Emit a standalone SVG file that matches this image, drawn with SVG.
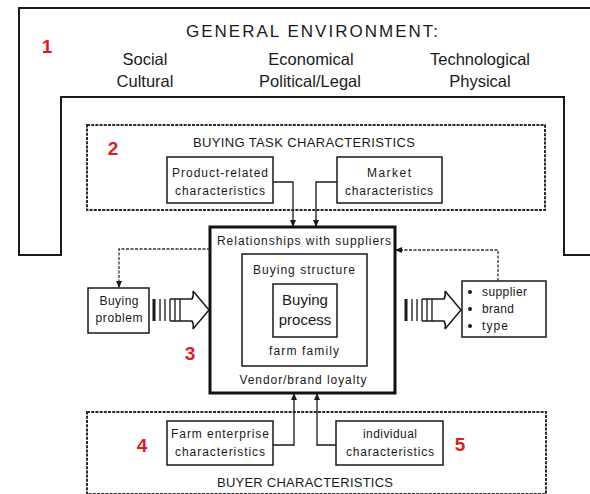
<svg xmlns="http://www.w3.org/2000/svg" width="590" height="494" viewBox="0 0 590 494">
<style>
text{font-family:"Liberation Sans",Arial,sans-serif;fill:#1a1a1a}
.env{font-size:16.5px}
.hd{font-size:13px}
.lb{font-size:12px}
.num{font-family:"Liberation Sans",Arial,sans-serif;font-size:19px;font-weight:bold;fill:#e01b1b}
.frame{fill:none;stroke:#1a1a1a;stroke-width:2}
.sect{fill:none;stroke:#2a2a2a;stroke-width:2;stroke-dasharray:3 1.2}
.box{fill:#fff;stroke:#1a1a1a;stroke-width:1.5}
.main{fill:#fff;stroke:#111;stroke-width:3}
.con{fill:none;stroke:#1a1a1a;stroke-width:1.3}
.dcon{fill:none;stroke:#333;stroke-width:1.3;stroke-dasharray:3 1.5}
</style>
<defs>
<marker id="ah" viewBox="0 0 8 8" refX="7" refY="4" markerWidth="7" markerHeight="7" markerUnits="userSpaceOnUse" orient="auto">
<path d="M0,0.5 L8,4 L0,7.5 Z" fill="#1a1a1a"/>
</marker>
<g id="striped">
<rect x="-1.5" y="-11" width="3" height="22" fill="#1a1a1a"/>
<path d="M6,-11 V11 M11,-11 V11 M16,-11 V11 M21,-11 V11 M26,-11 V11" stroke="#1a1a1a" stroke-width="1.3" fill="none"/>
<path d="M16,-11 H38 Q40,-14 39,-19 L55,0 L39,19 Q40,14 38,11 H16" stroke="#1a1a1a" stroke-width="1.5" fill="none" stroke-linejoin="miter"/>
</g>
</defs>

<g id="general-environment">
<path class="frame" d="M592,8 H19 V255 H61 V97 H564 V255 H592"/>
<text x="312" y="37" font-size="17" text-anchor="middle" textLength="252" lengthAdjust="spacing">GENERAL ENVIRONMENT:</text>
<text class="env" x="145" y="65" text-anchor="middle">Social</text>
<text class="env" x="145" y="87" text-anchor="middle">Cultural</text>
<text class="env" x="311" y="65" text-anchor="middle">Economical</text>
<text class="env" x="310" y="87" text-anchor="middle">Political/Legal</text>
<text class="env" x="480" y="65" text-anchor="middle">Technological</text>
<text class="env" x="480" y="87" text-anchor="middle">Physical</text>
<text class="num" x="47" y="53" text-anchor="middle">1</text>
</g>

<g id="buying-task">
<rect class="sect" x="87" y="125" width="458" height="85"/>
<text class="hd" x="304" y="147" text-anchor="middle" textLength="222" lengthAdjust="spacing">BUYING TASK CHARACTERISTICS</text>
<text class="num" x="113" y="155" text-anchor="middle">2</text>
</g>

<g id="product-related">
<rect class="box" x="167" y="157" width="106" height="46"/>
<text class="lb" x="220" y="177" text-anchor="middle" textLength="96" lengthAdjust="spacing">Product-related</text>
<text class="lb" x="220" y="195" text-anchor="middle" textLength="90" lengthAdjust="spacing">characteristics</text>
</g>

<g id="market">
<rect class="box" x="337" y="157" width="105" height="46"/>
<text class="lb" x="389" y="177" text-anchor="middle" textLength="44" lengthAdjust="spacing">Market</text>
<text class="lb" x="389" y="195" text-anchor="middle" textLength="88" lengthAdjust="spacing">characteristics</text>
</g>

<g id="buyer-characteristics">
<rect class="sect" x="87" y="412" width="459" height="82"/>
<text class="hd" x="305" y="487" text-anchor="middle" textLength="176" lengthAdjust="spacing">BUYER CHARACTERISTICS</text>
<text class="num" x="142" y="452" text-anchor="middle">4</text>
<text class="num" x="460" y="451" text-anchor="middle">5</text>
</g>

<g id="farm-enterprise">
<rect class="box" x="167" y="421" width="106" height="44"/>
<text class="lb" x="220" y="438" text-anchor="middle" textLength="98" lengthAdjust="spacing">Farm enterprise</text>
<text class="lb" x="220" y="456" text-anchor="middle" textLength="90" lengthAdjust="spacing">characteristics</text>
</g>

<g id="individual">
<rect class="box" x="336" y="421" width="107" height="44"/>
<text class="lb" x="390" y="438" text-anchor="middle" textLength="54" lengthAdjust="spacing">individual</text>
<text class="lb" x="390" y="456" text-anchor="middle" textLength="88" lengthAdjust="spacing">characteristics</text>
</g>

<g id="relationships">
<rect class="main" x="210" y="227" width="185" height="166"/>
<text class="lb" x="304" y="245" text-anchor="middle" textLength="174" lengthAdjust="spacing">Relationships with suppliers</text>
<text class="lb" x="303" y="384" text-anchor="middle" textLength="127" lengthAdjust="spacing">Vendor/brand loyalty</text>
</g>

<g id="buying-structure">
<rect class="box" x="242" y="254" width="125" height="112"/>
<text class="lb" x="304" y="274" text-anchor="middle" textLength="102" lengthAdjust="spacing">Buying structure</text>
<text class="lb" x="304" y="355" text-anchor="middle" textLength="70" lengthAdjust="spacing">farm family</text>
</g>

<g id="buying-process">
<rect class="box" x="273" y="284" width="64" height="53"/>
<text x="305" y="305" text-anchor="middle" font-size="15">Buying</text>
<text x="305" y="325" text-anchor="middle" font-size="15">process</text>
<text class="num" x="190" y="360" text-anchor="middle">3</text>
</g>

<g id="buying-problem">
<rect class="box" x="88" y="288" width="61" height="45"/>
<text class="lb" x="119" y="305" text-anchor="middle" textLength="39" lengthAdjust="spacing">Buying</text>
<text class="lb" x="119" y="322" text-anchor="middle" textLength="47" lengthAdjust="spacing">problem</text>
</g>

<g id="choice">
<rect class="box" x="462" y="281" width="84" height="56"/>
<circle cx="470" cy="292" r="2" fill="#1a1a1a"/>
<circle cx="470" cy="309" r="2" fill="#1a1a1a"/>
<circle cx="470" cy="326" r="2" fill="#1a1a1a"/>
<text class="lb" x="482" y="296" textLength="45" lengthAdjust="spacing">supplier</text>
<text class="lb" x="482" y="313" textLength="32" lengthAdjust="spacing">brand</text>
<text class="lb" x="482" y="330" textLength="26" lengthAdjust="spacing">type</text>
</g>

<g id="connectors">
<path class="con" d="M273,182 H293 V226" marker-end="url(#ah)"/>
<path class="con" d="M337,182 H316 V226" marker-end="url(#ah)"/>
<path class="con" d="M273,445 H294 V394" marker-end="url(#ah)"/>
<path class="con" d="M336,445 H317 V394" marker-end="url(#ah)"/>
<path class="dcon" d="M210,249 H119 V287" marker-end="url(#ah)"/>
<path class="dcon" d="M498,281 V250 H396" marker-end="url(#ah)"/>
<use href="#striped" x="154" y="310"/>
<use href="#striped" x="406" y="310"/>
</g>
</svg>
